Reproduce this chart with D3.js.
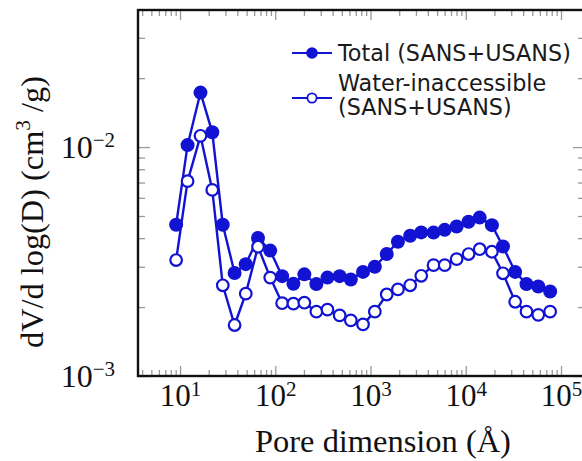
<!DOCTYPE html>
<html>
<head>
<meta charset="utf-8">
<script src="https://cdn.jsdelivr.net/npm/d3@7"></script>
<style>
  body { margin: 0; background: #fff; }
  svg { display: block; }
</style>
</head>
<body>
<div id="chart"></div>
<script>
// pore size distribution, SANS+USANS
var poreSize = [9.1, 12.0, 16.4, 21.8, 28.1, 37.4, 49.0, 65.9, 88.5, 118, 155, 202, 270, 353, 474, 621,
  834, 1110, 1480, 1940, 2610, 3410, 4590, 6010, 8020, 10700, 14000, 18800, 24600, 33000, 43400, 57700, 76900];

// dV/dlog(D), cm3/g
var totalVals = [0.00458, 0.0102, 0.0173, 0.0116, 0.00458, 0.00282, 0.00308, 0.00401, 0.00353, 0.00273, 0.00253,
  0.00278, 0.00252, 0.00269, 0.00273, 0.00264, 0.00285, 0.00300, 0.00341, 0.00386, 0.00410, 0.00424, 0.00423,
  0.00435, 0.00450, 0.00472, 0.00492, 0.00456, 0.00368, 0.00285, 0.00252, 0.00246, 0.00234];

var waterVals = [0.00321, 0.00710, 0.0112, 0.00650, 0.00249, 0.00167, 0.00229, 0.00367, 0.00269, 0.00208, 0.00207,
  0.00209, 0.00191, 0.00195, 0.00184, 0.00175, 0.00168, 0.00191, 0.00227, 0.00239, 0.00249, 0.00274, 0.00305,
  0.00305, 0.00324, 0.00341, 0.00358, 0.00349, 0.00281, 0.00211, 0.00191, 0.00185, 0.00191];

var seriesNames = ["Total (SANS+USANS)", "Water-inaccessible|(SANS+USANS)"];
var xLabelPowers = [1, 2, 3, 4, 5];
var yLabelPowers = [-2, -3];

var svgWidth = 582;
var svgHeight = 461;
var margin = { top: 10, right: -3, bottom: 85, left: 138 };
var width = svgWidth - margin.left - margin.right;
var height = svgHeight - margin.top - margin.bottom;

var blue = "#1212d2";
var tickGrey = "#9a9a9a";

var svg = d3.select("#chart")
  .append("svg")
  .attr("width", svgWidth)
  .attr("height", svgHeight);

svg.append("rect").attr("width", svgWidth).attr("height", svgHeight).attr("fill", "#fff");

var chartGroup = svg.append("g")
  .attr("transform", `translate(${margin.left}, ${margin.top})`);

var x = d3.scaleLog().domain([3.62, 178600]).range([0, width]);
var y = d3.scaleLog().domain([0.001, 0.0397]).range([height, 0]);

function isMajor(v) {
  var l = Math.log10(v);
  return Math.abs(l - Math.round(l)) < 1e-6;
}

var xAll = x.ticks();
var yAll = y.ticks();
var xMajor = xAll.filter(isMajor), xMinor = xAll.filter(d => !isMajor(d));
var yMajor = yAll.filter(isMajor), yMinor = yAll.filter(d => !isMajor(d));

// inward ticks on all four sides, major longer than minor
function tickAxis(axisFn, scale, vals, len, transform) {
  var g = chartGroup.append("g")
    .attr("transform", transform)
    .call(axisFn(scale).tickValues(vals).tickSize(len).tickFormat(""));
  g.select(".domain").remove();
  g.selectAll(".tick line").attr("stroke", tickGrey).attr("stroke-width", 1.3);
}

tickAxis(d3.axisTop, x, xMajor, 10, `translate(0, ${height})`);
tickAxis(d3.axisTop, x, xMinor, 6, `translate(0, ${height})`);
tickAxis(d3.axisBottom, x, xMajor, 10, "translate(0, 0)");
tickAxis(d3.axisBottom, x, xMinor, 6, "translate(0, 0)");
tickAxis(d3.axisRight, y, yMajor, 12, "translate(0, 0)");
tickAxis(d3.axisRight, y, yMinor, 7, "translate(0, 0)");
tickAxis(d3.axisLeft, y, yMajor, 12, `translate(${width}, 0)`);
tickAxis(d3.axisLeft, y, yMinor, 7, `translate(${width}, 0)`);

// frame
chartGroup.append("rect")
  .attr("width", width)
  .attr("height", height)
  .attr("fill", "none")
  .attr("stroke", "#111")
  .attr("stroke-width", 2.4);

// power-of-ten tick labels
function powerLabel(sel, p) {
  sel.text(null);
  sel.append("tspan").text("10");
  sel.append("tspan")
    .attr("font-size", 21)
    .attr("dy", "-0.5em")
    .text(p < 0 ? "\u2212" + (-p) : p);
}

var xLabelAxis = chartGroup.append("g")
  .attr("transform", `translate(0, ${height})`)
  .call(d3.axisBottom(x).tickValues(xLabelPowers.map(p => Math.pow(10, p))).tickSize(0).tickPadding(8));
xLabelAxis.select(".domain").remove();
xLabelAxis.selectAll("text")
  .attr("font-family", "'Liberation Serif', serif")
  .attr("font-size", 31)
  .attr("fill", "#111")
  .each(function(d, i) { powerLabel(d3.select(this), xLabelPowers[i]); });

var yLabelAxis = chartGroup.append("g")
  .call(d3.axisLeft(y).tickValues(yLabelPowers.map(p => Math.pow(10, p))).tickSize(0).tickPadding(23));
yLabelAxis.select(".domain").remove();
yLabelAxis.selectAll("text")
  .attr("font-family", "'Liberation Serif', serif")
  .attr("font-size", 32)
  .attr("fill", "#111")
  .each(function(d, i) { powerLabel(d3.select(this), yLabelPowers[i]); });

// series
var totalData = poreSize.map((d, i) => ({ x: d, y: totalVals[i] }));
var waterData = poreSize.map((d, i) => ({ x: d, y: waterVals[i] }));

var line = d3.line().x(d => x(d.x)).y(d => y(d.y));

chartGroup.append("path")
  .datum(totalData)
  .attr("d", line)
  .attr("fill", "none")
  .attr("stroke", blue)
  .attr("stroke-width", 2.4);

chartGroup.selectAll(".dotTotal")
  .data(totalData)
  .enter()
  .append("circle")
  .attr("class", "dotTotal")
  .attr("cx", d => x(d.x))
  .attr("cy", d => y(d.y))
  .attr("r", 7)
  .attr("fill", blue);

chartGroup.append("path")
  .datum(waterData)
  .attr("d", line)
  .attr("fill", "none")
  .attr("stroke", blue)
  .attr("stroke-width", 2.4);

chartGroup.selectAll(".dotWater")
  .data(waterData)
  .enter()
  .append("circle")
  .attr("class", "dotWater")
  .attr("cx", d => x(d.x))
  .attr("cy", d => y(d.y))
  .attr("r", 5.8)
  .attr("fill", "#fff")
  .attr("stroke", blue)
  .attr("stroke-width", 2.2);

// legend
var legend = svg.append("g").attr("font-family", "'DejaVu Sans', sans-serif").attr("font-size", 22.3).attr("fill", "#1a1a1a");
var legendRows = [{ y: 53, filled: true, lines: seriesNames[0].split("|"), textY: [61] },
                  { y: 98, filled: false, lines: seriesNames[1].split("|"), textY: [91, 115] }];
legendRows.forEach(function(row) {
  legend.append("line")
    .attr("x1", 292).attr("x2", 332)
    .attr("y1", row.y).attr("y2", row.y)
    .attr("stroke", blue).attr("stroke-width", 2.2);
  legend.append("circle")
    .attr("cx", 312).attr("cy", row.y)
    .attr("r", row.filled ? 5.8 : 4.6)
    .attr("fill", row.filled ? blue : "#fff")
    .attr("stroke", row.filled ? "none" : blue)
    .attr("stroke-width", 1.8);
  row.lines.forEach(function(t, i) {
    legend.append("text").attr("x", 338).attr("y", row.textY[i]).text(t);
  });
});

// axis titles, sized so they span the same length as in the figure
function fitText(sel, base, target) {
  var w = sel.node().getBBox().width;
  var k = target / w;
  sel.attr("font-size", base * k);
  sel.selectAll("tspan.sup").attr("font-size", base * k * 0.66);
}

var xTitle = svg.append("text")
  .attr("x", 383)
  .attr("y", 452)
  .attr("text-anchor", "middle")
  .attr("font-family", "'Liberation Serif', serif")
  .attr("font-size", 32)
  .attr("fill", "#111")
  .text("Pore dimension (\u00C5)");
fitText(xTitle, 32, 256);

var yTitle = svg.append("text")
  .attr("transform", "translate(43, 212) rotate(-90)")
  .attr("text-anchor", "middle")
  .attr("font-family", "'Liberation Serif', serif")
  .attr("font-size", 29)
  .attr("fill", "#111");
yTitle.append("tspan").text("dV/d log(D) (cm");
yTitle.append("tspan").attr("class", "sup").attr("font-size", 19).attr("dy", "-0.6em").text("3");
yTitle.append("tspan").attr("dy", "0.4em").text(" /g)");
fitText(yTitle, 29, 272);
</script>
</body>
</html>
